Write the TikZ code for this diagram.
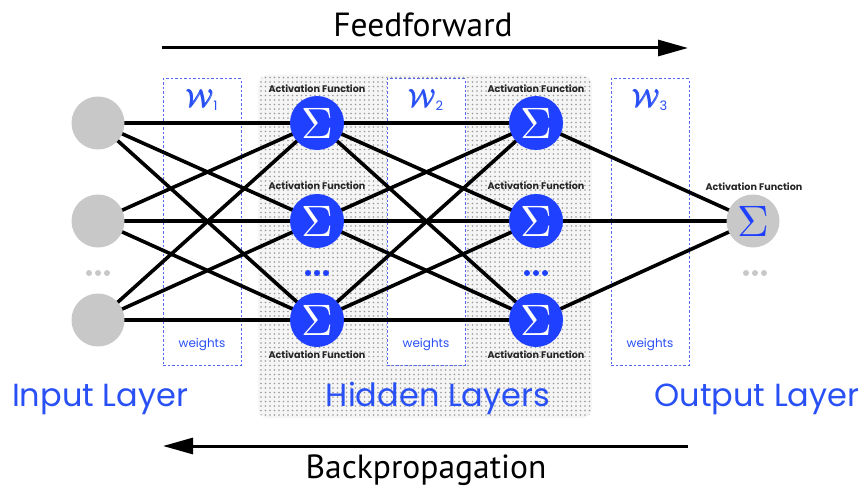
\documentclass[tikz,border=0pt]{standalone}
\usepackage{fontspec}
\usepackage{amsmath}
\newfontfamily\humsans{PT Sans}
\newfontfamily\geosans{Poppins}
\usetikzlibrary{patterns.meta,arrows.meta}
\definecolor{nnblue}{RGB}{32,64,255}
\definecolor{txtblue}{RGB}{40,80,245}
\definecolor{boxblue}{RGB}{85,105,245}
\definecolor{nodegray}{RGB}{200,200,200}
\pgfdeclarelayer{panel}
\pgfdeclarelayer{links}
\pgfsetlayers{panel,links,main}
\begin{document}
\begin{tikzpicture}[x=1pt,y=-1pt,
  inputnode/.style={circle,fill=nodegray,minimum size=53pt,inner sep=0pt},
  hiddennode/.style={circle,fill=nnblue,minimum size=54pt,inner sep=0pt,text=white},
  outputnode/.style={circle,fill=nodegray,minimum size=53pt,inner sep=0pt,text=nnblue},
  wbox/.style={draw=boxblue,dash pattern=on 2.5pt off 2pt,line width=1pt,
    fill=white,minimum width=78pt,minimum height=286pt,inner sep=0pt},
  edge/.style={line width=3.6pt,black},
  flow/.style={line width=3pt,-{Triangle[length=30pt,width=16pt]}},
  actlabel/.style={font=\geosans\bfseries\fontsize{9.6}{10}\selectfont,text=black!85},
  layerlabel/.style={font=\geosans\fontsize{32}{34}\selectfont,text=txtblue,anchor=base},
  wlabel/.style={text=txtblue},
  wtext/.style={text=txtblue,font=\geosans\fontsize{12}{12}\selectfont},
  flowlabel/.style={font=\humsans\fontsize{33.5}{36}\selectfont,anchor=base},
  dot/.style={circle,inner sep=0pt,minimum size=6pt}
]
\useasboundingbox (0,0) rectangle (865,487);

\newcommand\sumsign{\scalebox{4.4}{$\Sigma$}}

\begin{pgfonlayer}{panel}
% dotted panel behind the hidden layers
\fill[black!4,rounded corners=10pt] (258,75) rectangle (592,418);
\fill[pattern={Dots[distance=4.5pt,radius=0.8pt]},pattern color=black!40,rounded corners=10pt]
  (258,75) rectangle (592,418);
% weight boxes
\node[wbox] (wb1) at (202,222) {};
\node[wbox] (wb2) at (426,222) {};
\node[wbox] (wb3) at (650,222) {};
\end{pgfonlayer}

% neurons
\node[inputnode] (in1) at (98,123) {};
\node[inputnode] (in2) at (98,221) {};
\node[inputnode] (in3) at (98,320) {};
\node[hiddennode] (ha1) at (317,123) {\sumsign};
\node[hiddennode] (ha2) at (317,221) {\sumsign};
\node[hiddennode] (ha3) at (317,320) {\sumsign};
\node[hiddennode] (hb1) at (536,123) {\sumsign};
\node[hiddennode] (hb2) at (536,221) {\sumsign};
\node[hiddennode] (hb3) at (536,320) {\sumsign};
\node[outputnode] (out) at (753,221) {\sumsign};

% connections
\begin{pgfonlayer}{links}
\foreach \a in {in1,in2,in3}{
  \foreach \b in {ha1,ha2,ha3}{
    \draw[edge] (\a.center) -- (\b.center);
  }
}
\foreach \a in {ha1,ha2,ha3}{
  \foreach \b in {hb1,hb2,hb3}{
    \draw[edge] (\a.center) -- (\b.center);
  }
}
\foreach \a in {hb1,hb2,hb3}{
  \draw[edge] (\a.center) -- (out.center);
}
\end{pgfonlayer}

% ellipsis dots
\foreach \x/\c in {98/nodegray,317/nnblue,536/nnblue,755/nodegray}{
  \foreach \d in {-9,0,9}{
    \node[dot,fill=\c] at (\x+\d,273) {};
  }
}

% activation function labels
\foreach \x in {317,536}{
  \node[actlabel] at (\x,89) {Activation Function};
  \node[actlabel] at (\x,186) {Activation Function};
  \node[actlabel] at (\x,355) {Activation Function};
}
\node[actlabel] at (754,187) {Activation Function};

% weight labels
\foreach \x/\i in {202/1,426/2,650/3}{
  \node[wlabel] at (\x,100) {\scalebox{2.5}{$\pmb{\mathcal{W}}$}\raisebox{-3pt}{\geosans\fontsize{13}{13}\selectfont\i}};
  \node[wtext] at (\x,345) {weights};
}

% layer names
\node[layerlabel] (linput) at (100,406) {Input Layer};
\node[layerlabel] (lhidden) at (438,406) {Hidden Layers};
\node[layerlabel] (loutput) at (757,406) {Output Layer};

% training direction arrows
\coordinate (ffs) at (162,48);
\coordinate (ffe) at (688,48);
\coordinate (bps) at (688,446);
\coordinate (bpe) at (163,446);
\draw[flow] (ffs) -- (ffe);
\draw[flow] (bps) -- (bpe);
\node[flowlabel] (fftext) at (423,37) {Feedforward};
\node[flowlabel] (bptext) at (426,478) {Backpropagation};
\end{tikzpicture}
\end{document}
